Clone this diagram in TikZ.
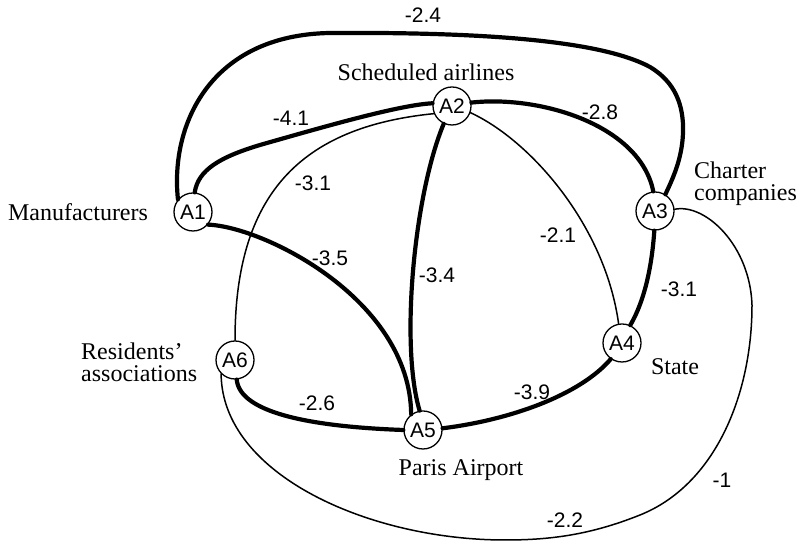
\documentclass[tikz,border=0pt]{standalone}
\usepackage{fontspec}
\setmainfont{Liberation Serif}
\newfontfamily\numfont{Liberation Sans}
\begin{document}
\begin{tikzpicture}[x=1pt,y=1pt,
  actor/.style={circle,draw,line width=1.3pt,fill=white,minimum size=38pt,inner sep=0pt,
    font=\numfont\fontsize{21}{21}\selectfont},
  strong/.style={line width=4.2pt,line cap=round},
  weak/.style={line width=1.5pt,line cap=round},
  weight/.style={font=\numfont\fontsize{21}{21}\selectfont,inner sep=0pt},
  role/.style={font=\fontsize{24}{22}\selectfont,inner sep=0pt,align=left}]
\useasboundingbox (0,0) rectangle (800,545);

% actors
\node[actor] (A1) at (193,333) {A1};
\node[actor] (A2) at (452,439) {A2};
\node[actor] (A3) at (655,334) {A3};
\node[actor] (A4) at (622,202) {A4};
\node[actor] (A5) at (423,115) {A5};
\node[actor] (A6) at (235,185) {A6};

% actor names
\node[role] (n2) at (426,473) {Scheduled airlines};
\node[role,anchor=west] (n3) at (694,361) {Charter\\companies};
\node[role] (n1) at (78,333) {Manufacturers};
\node[role,anchor=west] (n6) at (81,183) {Residents’\\associations};
\node[role] (n4) at (675,178) {State};
\node[role] (n5) at (461,75) {Paris Airport};

% strong links
\draw[strong] (A1.140) .. controls (170,420) and (210,510) .. (330,512)
  .. controls (480,513) and (600,505) .. (650,478)
  .. controls (675,463) and (684,440) .. (683,412)
  .. controls (682,385) and (672,365) .. (A3.58);
\draw[strong] (A1.85) .. controls (198,375) and (220,388) .. (260,400)
  .. controls (330,420) and (400,440) .. (A2.172);
\draw[strong] (A2.10) .. controls (540,450) and (640,420) .. (A3.95);
\draw[strong] (A3.268) .. controls (652,280) and (645,245) .. (A4.65);
\draw[strong] (A2.245) .. controls (414,350) and (400,200) .. (A5.100);
\draw[strong] (A1.-40) .. controls (265,318) and (410,245) .. (A5.127);
\draw[strong] (A6.-85) .. controls (240,130) and (320,118) .. (A5.west);
\draw[strong] (A5.5) .. controls (510,125) and (580,150) .. (A4.235);

% weak links
\draw[weak] (A2.-20) .. controls (530,405) and (605,320) .. (A4.100);
\draw[weak] (A2.203) .. controls (300,418) and (235,350) .. (A6.north);
\draw[weak] (A3.5) .. controls (705,342) and (750,300) .. (752,240)
  .. controls (752,150) and (715,60) .. (640,30)
  .. controls (590,10) and (550,5) .. (505,5)
  .. controls (370,5) and (222,70) .. (A6.225);

% weights
\node[weight] (w13) at (423,530) {-2.4};
\node[weight] (w12) at (291,427) {-4.1};
\node[weight] (w23) at (600,433) {-2.8};
\node[weight] (w26) at (313,362) {-3.1};
\node[weight] (w24) at (558,310) {-2.1};
\node[weight] (w15) at (330,287) {-3.5};
\node[weight] (w25) at (437,270) {-3.4};
\node[weight] (w34) at (679,256) {-3.1};
\node[weight] (w65) at (317,142) {-2.6};
\node[weight] (w54) at (532,153) {-3.9};
\node[weight] (w36) at (722,65) {-1};
\node[weight] (w63) at (565,25) {-2.2};
\end{tikzpicture}
\end{document}
